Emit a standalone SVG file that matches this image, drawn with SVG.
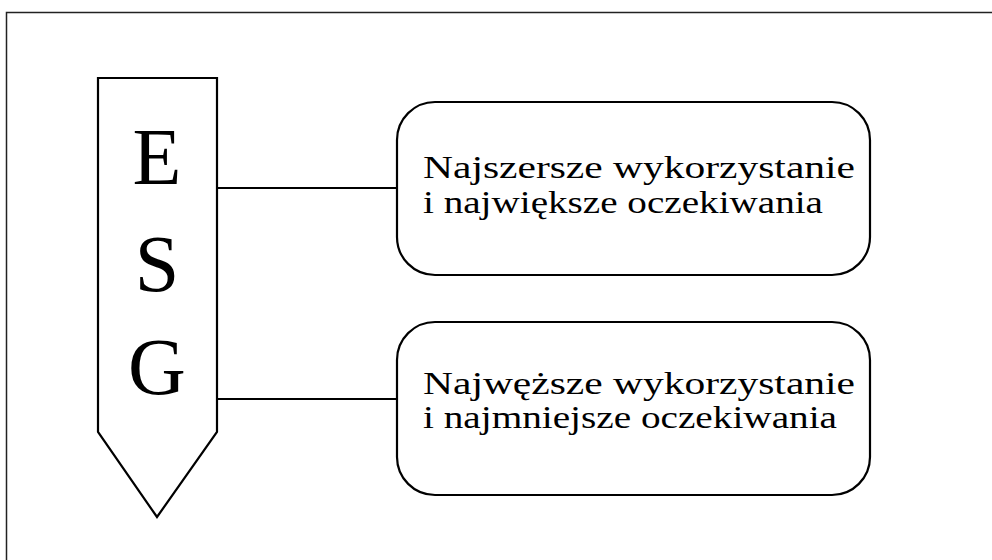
<svg xmlns="http://www.w3.org/2000/svg" width="992" height="560" viewBox="0 0 992 560">
<style>
.s{fill:#fff;stroke:#000;stroke-width:2.2}
.c{stroke:#000;stroke-width:2.2;fill:none}
.t{font-family:"Liberation Serif","DejaVu Serif",serif;font-size:32px;fill:#000}
.L{font-family:"Liberation Serif","DejaVu Serif",serif;font-size:80px;fill:#000;text-anchor:middle}
</style>
<rect width="992" height="560" fill="#fff"/>
<path d="M6.5 560V12.5H992" fill="none" stroke="#222" stroke-width="1.5"/>
<g id="connectors">
<line class="c" x1="217" y1="188" x2="398" y2="188"/>
<line class="c" x1="217" y1="399" x2="398" y2="399"/>
</g>
<g id="esg">
<path class="s" d="M98 78H217V432L157 517L98 432Z"/>
<text class="L" x="157" y="184">E</text>
<text class="L" x="157" y="291">S</text>
<text class="L" x="157" y="394">G</text>
</g>
<g id="box1">
<rect class="s" x="397" y="102" width="473" height="173" rx="38"/>
<text class="t" x="423" y="178" textLength="432" lengthAdjust="spacingAndGlyphs">Najszersze wykorzystanie</text>
<text class="t" x="423" y="213" textLength="400" lengthAdjust="spacingAndGlyphs">i największe oczekiwania</text>
</g>
<g id="box2">
<rect class="s" x="397" y="322" width="473" height="173" rx="38"/>
<text class="t" x="423" y="394" textLength="432" lengthAdjust="spacingAndGlyphs">Najwęższe wykorzystanie</text>
<text class="t" x="423" y="428" textLength="414" lengthAdjust="spacingAndGlyphs">i najmniejsze oczekiwania</text>
</g>
</svg>
